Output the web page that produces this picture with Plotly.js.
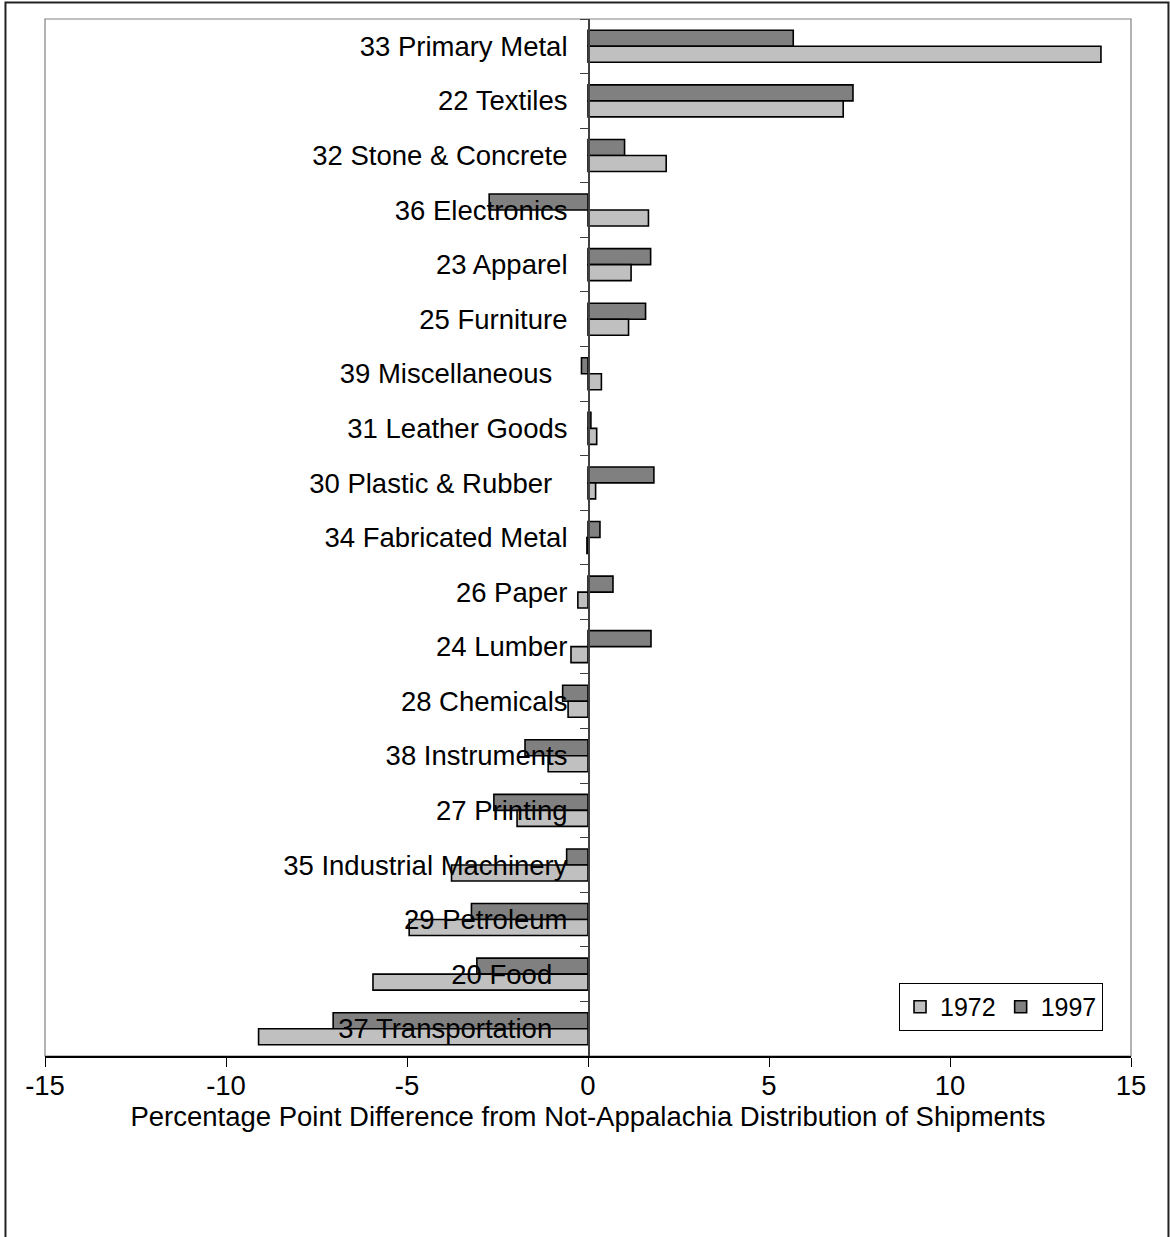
<!DOCTYPE html>
<html>
<head>
<meta charset="utf-8">
<script src="https://cdn.plot.ly/plotly-3.0.1.min.js"></script>
<style>
  html, body { margin: 0; padding: 0; background: #fff; }
  #chart { width: 1170px; height: 1237px; }
</style>
</head>
<body>
<div id="chart"></div>
<script>
// Categories, top to bottom
var categories = [
  "33 Primary Metal",
  "22 Textiles",
  "32 Stone & Concrete",
  "36 Electronics",
  "23 Apparel",
  "25 Furniture",
  "39 Miscellaneous\u00a0\u00a0",
  "31 Leather Goods",
  "30 Plastic & Rubber\u00a0\u00a0",
  "34 Fabricated Metal",
  "26 Paper",
  "24 Lumber",
  "28 Chemicals",
  "38 Instruments",
  "27 Printing",
  "35 Industrial Machinery",
  "29 Petroleum",
  "20 Food\u00a0\u00a0",
  "37 Transportation\u00a0\u00a0"
];

var values1972 = [14.17, 7.05, 2.16, 1.67, 1.19, 1.12, 0.37, 0.24, 0.21, -0.03,
                  -0.28, -0.47, -0.55, -1.10, -1.96, -3.77, -4.94, -5.94, -9.10];
var values1997 = [5.67, 7.32, 1.01, -2.73, 1.73, 1.59, -0.18, 0.08, 1.82, 0.33,
                  0.69, 1.74, -0.70, -1.74, -2.60, -0.59, -3.22, -3.07, -7.04];

var xTickValues = [-15, -10, -5, 0, 5, 10, 15];
var xTickLabels = ["-15", "-10", "-5", "0", "5", "10", "15"];

var seriesNames = ["1997", "1972"];

var FONT = "Liberation Sans, Arial, sans-serif";
var FS = 27.5;

var traces = [
  {
    type: "bar", orientation: "h", name: seriesNames[0],
    y: categories, x: values1997,
    marker: { color: "#808080", line: { color: "#000000", width: 1.6 } },
    hoverinfo: "x+y"
  },
  {
    type: "bar", orientation: "h", name: seriesNames[1],
    y: categories, x: values1972,
    marker: { color: "#C0C0C0", line: { color: "#000000", width: 1.6 } },
    hoverinfo: "x+y"
  }
];

var layout = {
  width: 1170, height: 1237,
  margin: { l: 45, r: 39, t: 19, b: 181 },
  paper_bgcolor: "#ffffff",
  plot_bgcolor: "#ffffff",
  font: { family: FONT, size: FS, color: "#000000" },
  barmode: "group",
  bargap: 0.414,
  bargroupgap: 0,
  showlegend: true,
  legend: {
    x: 0.7864, y: 0.0704, xanchor: "left", yanchor: "top",
    orientation: "h",
    traceorder: "reversed",
    bgcolor: "#ffffff",
    bordercolor: "#000000", borderwidth: 1,
    font: { family: FONT, size: 25, color: "#000000" },
    itemwidth: 30
  },
  xaxis: {
    range: [-15, 15],
    tickmode: "array", tickvals: xTickValues, ticktext: xTickLabels,
    showgrid: false, zeroline: false,
    showline: true, linecolor: "#000000", linewidth: 1.5,
    ticks: "outside", ticklen: 9, tickcolor: "#000000", tickwidth: 1,
    tickfont: { family: FONT, size: FS, color: "#000000" },
    ticklabelstandoff: -5,
    title: {
      text: "Percentage Point Difference from Not-Appalachia Distribution of Shipments",
      font: { family: FONT, size: FS, color: "#000000" },
      standoff: 0
    },
    fixedrange: true
  },
  yaxis: {
    type: "category",
    autorange: "reversed",
    anchor: "free", position: 0.5,
    showgrid: false, zeroline: false,
    showline: true, linecolor: "#404040", linewidth: 1.5,
    ticks: "outside", ticklen: 8, tickcolor: "#404040", tickwidth: 1,
    tickson: "boundaries",
    tickfont: { family: FONT, size: FS, color: "#000000" },
    ticklabelstandoff: 15,
    layer: "above traces",
    fixedrange: true
  },
  shapes: [
    {
      type: "rect", xref: "paper", yref: "paper",
      x0: 0, x1: 1, y0: 0, y1: 1,
      line: { color: "#808080", width: 1.2 }, layer: "below"
    },
    {
      type: "rect", xref: "paper", yref: "paper",
      x0: -0.0364, x1: 1.0345, y0: -0.18, y1: 1.0159,
      line: { color: "#222222", width: 2 }, layer: "below"
    }
  ]
};

Plotly.newPlot("chart", traces, layout, { displayModeBar: false, staticPlot: true });
</script>
</body>
</html>
